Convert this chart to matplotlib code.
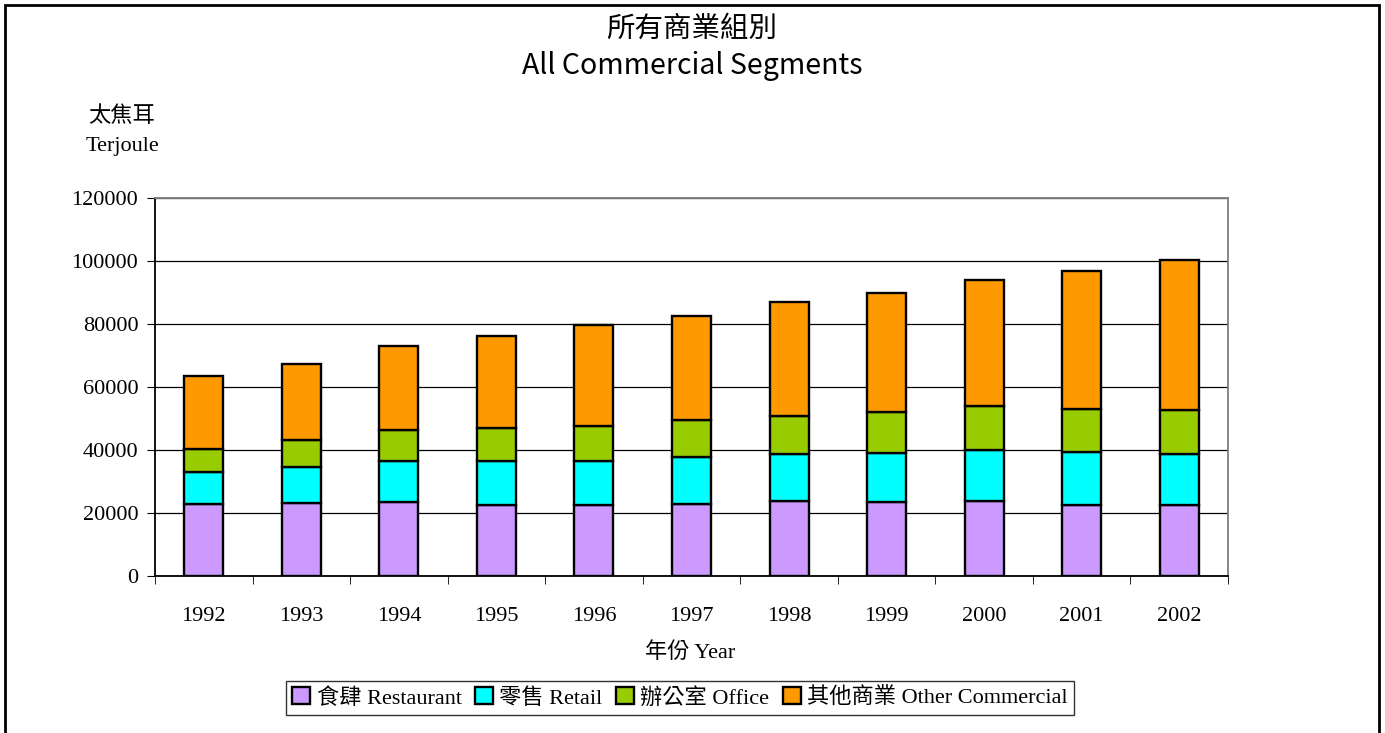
import matplotlib
matplotlib.use('Agg')
import matplotlib.pyplot as plt
from matplotlib.patches import Rectangle
import numpy as np

years = ['1992', '1993', '1994', '1995', '1996', '1997', '1998', '1999', '2000', '2001', '2002']

# cumulative tops (TJ)
restaurant = [22800, 23300, 23400, 22600, 22400, 22900, 23800, 23400, 23900, 22600, 22500]
retail_top = [32900, 34500, 36400, 36400, 36600, 37700, 38700, 39000, 39900, 39300, 38700]
office_top = [40400, 43100, 46300, 47000, 47600, 49400, 50800, 52200, 53900, 53100, 52700]
total_top = [63500, 67400, 73000, 76200, 79600, 82500, 86900, 89900, 94000, 96700, 100200]

retail = [t - b for t, b in zip(retail_top, restaurant)]
office = [t - b for t, b in zip(office_top, retail_top)]
other = [t - b for t, b in zip(total_top, office_top)]

series = [
    ('食肆 Restaurant', restaurant, '#CC99FF'),
    ('零售 Retail', retail, '#00FFFF'),
    ('辦公室 Office', office, '#99CC00'),
    ('其他商業 Other Commercial', other, '#FF9900'),
]

serif = ['Liberation Serif', 'Noto Sans CJK TC']
sans = ['Noto Sans CJK TC', 'DejaVu Sans']

fig = plt.figure(figsize=(13.85, 7.33), dpi=100)
ax = fig.add_axes([155 / 1385, 1 - 576 / 733, (1228 - 155) / 1385, (576 - 198) / 733])

x = np.arange(len(years))
bottom = np.zeros(len(years))
handles = []
for name, vals, col in series:
    b = ax.bar(x, vals, 0.4, bottom=bottom, color=col, edgecolor='black',
               linewidth=1.7, label=name, zorder=3)
    bottom += np.array(vals)
    handles.append(b)

ax.set_xlim(-0.5, len(years) - 0.5)
ax.set_ylim(0, 120000)
ax.set_yticks(np.arange(0, 120001, 20000))
ax.yaxis.grid(True, color='black', linewidth=0.9, zorder=0)
ax.set_xticks(x)
ax.set_xticklabels(years)
ax.set_xticks(np.arange(-0.5, len(years)), minor=True)
ax.tick_params(axis='x', which='major', length=0, pad=22)
ax.tick_params(axis='x', which='minor', length=6, direction='out', color='black')
ax.tick_params(axis='y', length=6, direction='out', color='black', pad=6)
for lab in ax.get_xticklabels() + ax.get_yticklabels():
    lab.set_family(serif)
    lab.set_fontsize(16)

ax.spines['left'].set_color('black')
ax.spines['bottom'].set_color('black')
ax.spines['top'].set_color('#808080')
ax.spines['right'].set_color('#808080')
for s in ax.spines.values():
    s.set_linewidth(1.3)

fig.text(690 / 1385, 1 - 653 / 733, '年份 Year', family=serif, fontsize=16,
         ha='center', va='center')
fig.text(122 / 1385, 1 - 117 / 733, '太焦耳', family=serif, fontsize=16,
         ha='center', va='center')
fig.text(122 / 1385, 1 - 147 / 733, 'Terjoule', family=serif, fontsize=16,
         ha='center', va='center')

fig.text(692 / 1385, 1 - 29 / 733, '所有商業組別', family=sans, fontsize=20.5,
         ha='center', va='center')
fig.text(692 / 1385, 1 - 66 / 733, 'All Commercial Segments', family=sans, fontsize=20.5,
         ha='center', va='center')

leg = fig.legend(handles=handles, loc='center', bbox_to_anchor=(680 / 1385, 1 - 698 / 733),
                 ncol=4, frameon=True, fancybox=False, edgecolor='black',
                 prop={'family': serif, 'size': 16}, handlelength=0.8, handleheight=0.8,
                 handletextpad=0.3, columnspacing=0.6, borderpad=0.3)
leg.get_frame().set_linewidth(1.0)

fig.patches.append(Rectangle((5 / 1385, -0.05), (1379 - 5) / 1385, 1.05 - 5 / 733,
                             transform=fig.transFigure, fill=False, edgecolor='black',
                             linewidth=2, figure=fig))

fig.savefig('out.png', dpi=100)
